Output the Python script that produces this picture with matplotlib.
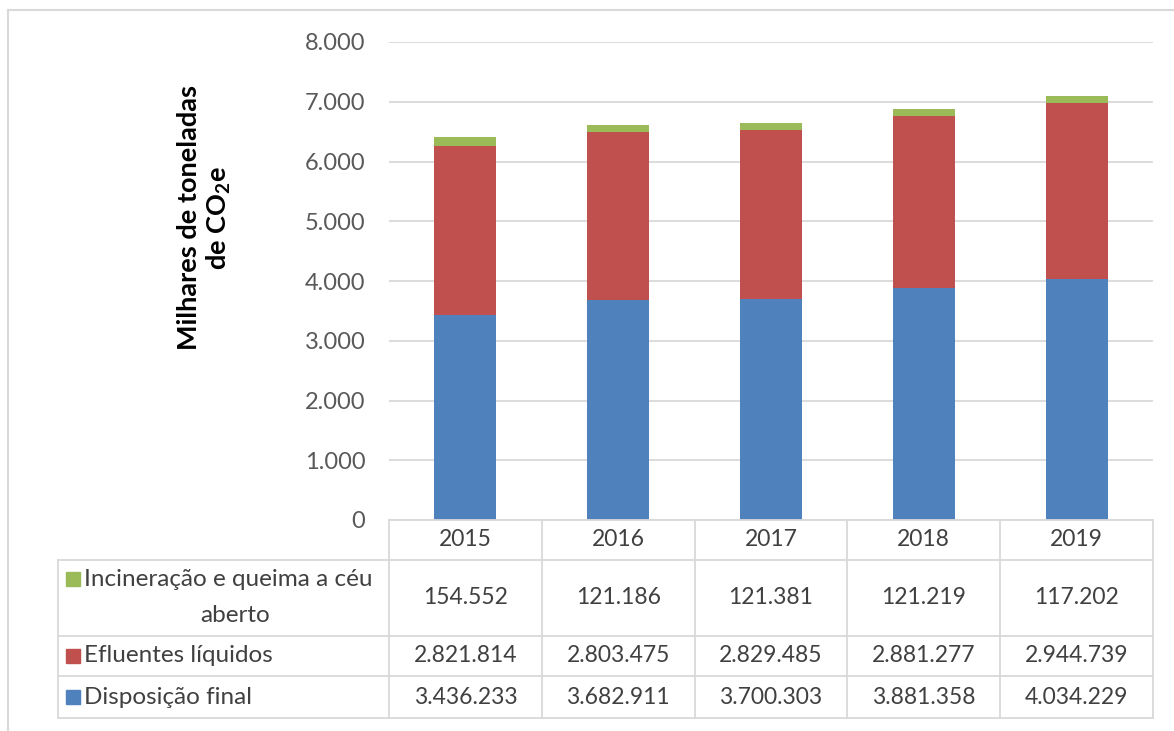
import matplotlib.pyplot as plt
import numpy as np

years = ['2015', '2016', '2017', '2018', '2019']
disposicao = [3436.233, 3682.911, 3700.303, 3881.358, 4034.229]
efluentes = [2821.814, 2803.475, 2829.485, 2881.277, 2944.739]
incineracao = [154.552, 121.186, 121.381, 121.219, 117.202]

disp_txt = ['3.436.233', '3.682.911', '3.700.303', '3.881.358', '4.034.229']
eflu_txt = ['2.821.814', '2.803.475', '2.829.485', '2.881.277', '2.944.739']
inci_txt = ['154.552', '121.186', '121.381', '121.219', '117.202']

yticks = [0, 1000, 2000, 3000, 4000, 5000, 6000, 7000, 8000]
ytick_labels = ['0', '1.000', '2.000', '3.000', '4.000', '5.000', '6.000', '7.000', '8.000']

blue = '#4F81BD'
red = '#C0504D'
green = '#9BBB59'
grid_c = '#D9D9D9'
txt_c = '#404040'

plt.rcParams['font.family'] = ['Lato', 'DejaVu Sans']

W, H = 1174, 731
fig = plt.figure(figsize=(W / 100, H / 100), dpi=100)

def px(x0, y0, x1, y1):
    # pixel box -> figure fraction [left, bottom, width, height]
    return [x0 / W, 1 - y1 / H, (x1 - x0) / W, (y1 - y0) / H]

# outer frame
fig.add_artist(plt.Line2D([8 / W, 8 / W], [0, 1 - 10 / H], color='#D9D9D9', lw=1.5))
fig.add_artist(plt.Line2D([8 / W, 1], [1 - 10 / H, 1 - 10 / H], color='#D9D9D9', lw=1.5))

ax = fig.add_axes(px(389, 42, 1153, 520))
x = np.arange(len(years))
bw = 0.405
b = np.zeros(len(years))
for vals, c in [(disposicao, blue), (efluentes, red), (incineracao, green)]:
    ax.bar(x, vals, bw, bottom=b, color=c, zorder=3)
    b += np.array(vals)

ax.set_xlim(-0.5, 4.5)
ax.set_ylim(0, 8000)
ax.set_yticks(yticks)
ax.set_yticklabels(ytick_labels, color='#595959', fontsize=17)
ax.tick_params(axis='y', length=0, pad=17)
ax.set_xticks([])
ax.grid(axis='y', color=grid_c, lw=1.3, zorder=0)
for s in ax.spines.values():
    s.set_visible(False)

fig.text(205 / W, 1 - 218 / H, 'Milhares de toneladas\nde CO$_\\mathregular{2}$e', rotation=90,
         ha='center', va='center', fontsize=19.5, fontweight='bold', multialignment='center',
         color='black', linespacing=1.15)

# data table below the plot
tab = fig.add_axes(px(58, 520, 1153, 718))
col_w = (1153 - 389) / 5.0
lab_w = (389 - 58) / col_w
tab.set_xlim(-0.5 - lab_w, 4.5)
tab.set_ylim(198, 0)
tab.axis('off')

rows = [0, 40, 116, 156, 198]
lc = dict(color=grid_c, lw=1.3, clip_on=False)
tab.plot([-0.5, 4.5], [0, 0], **lc)
for r in rows[1:]:
    tab.plot([-0.5 - lab_w, 4.5], [r, r], **lc)
for i in range(6):
    tab.plot([i - 0.5, i - 0.5], [0, 198], **lc)
tab.plot([-0.5 - lab_w, -0.5 - lab_w], [40, 198], **lc)

tk = dict(ha='center', va='center', fontsize=16.5, color=txt_c)
for i, yr in enumerate(years):
    tab.text(i, 20, yr, **tk)
    tab.text(i, 78, inci_txt[i], **tk)
    tab.text(i, 136, eflu_txt[i], **tk)
    tab.text(i, 177, disp_txt[i], **tk)

x_mark = -0.5 - lab_w + 8 / col_w
x_lab = -0.5 - lab_w + 26 / col_w
msz = 14 / col_w
lk = dict(ha='left', va='center', fontsize=17.5, color=txt_c)
for yc, c in [(59, green), (136, red), (177, blue)]:
    tab.add_patch(plt.Rectangle((x_mark, yc - 7), msz, 14, color=c, clip_on=False))
tab.text(x_lab, 59, 'Incineração e queima a céu', **lk)
tab.text(-0.5 - lab_w + 177 / col_w, 96, 'aberto', ha='center', va='center', fontsize=17.5, color=txt_c)
tab.text(x_lab, 136, 'Efluentes líquidos', **lk)
tab.text(x_lab, 177, 'Disposição final', **lk)

fig.savefig('out.png', dpi=100)
